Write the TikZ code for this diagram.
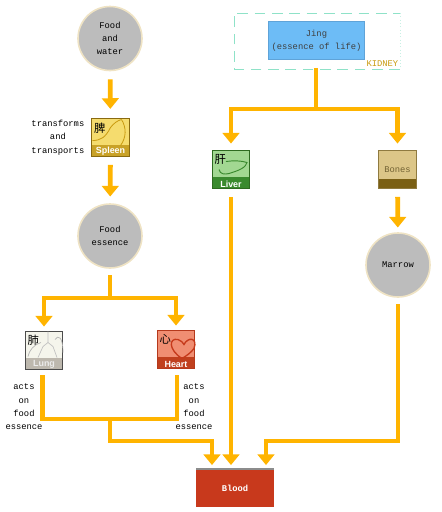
\documentclass[tikz,border=0pt]{standalone}
\usepackage{fontspec}
\setmainfont{Liberation Serif}
\newfontfamily\monofont{Liberation Mono}
\newfontfamily\bandfont{Liberation Sans}
\newfontfamily\cjk{Noto Sans CJK SC}
\usetikzlibrary{arrows.meta,positioning}
\definecolor{Flow}{HTML}{FFB400}
\definecolor{Disc}{HTML}{BCBCBC}
\definecolor{DiscEdge}{HTML}{EFE3C4}
\definecolor{Jing}{HTML}{6DBCF6}
\definecolor{JingEdge}{HTML}{5FA3D8}
\definecolor{Dash}{HTML}{8FE2C8}
\definecolor{Kidney}{HTML}{C99A10}
\definecolor{Blood}{HTML}{C8391C}
\definecolor{SpleenFill}{HTML}{F5DC6E}
\definecolor{SpleenBand}{HTML}{C9A227}
\definecolor{SpleenEdge}{HTML}{8A6A10}
\definecolor{LiverFill}{HTML}{A2D892}
\definecolor{LiverBand}{HTML}{3A8A2E}
\definecolor{LiverEdge}{HTML}{2E6B20}
\definecolor{LungBand}{HTML}{BDB8AE}
\definecolor{LungFill}{HTML}{F5F5EC}
\definecolor{HeartFill}{HTML}{F08E72}
\definecolor{HeartBand}{HTML}{C0401E}
\definecolor{HeartEdge}{HTML}{B5391C}
\definecolor{BonesFill}{HTML}{DCC688}
\definecolor{BonesBand}{HTML}{7A5F14}
\definecolor{BonesEdge}{HTML}{8F7A40}

\begin{document}
\begin{tikzpicture}[x=0.75pt,y=-0.75pt,node distance=3pt,>=Latex]
        \tikzset{
          plaintext/.style={
            font=\monofont\fontsize{6.6}{10}\selectfont,
            align=center,
            inner sep=0pt
          },
          disc/.style={
            circle,
            draw=DiscEdge,
            line width=1.2pt,
            fill=Disc,
            minimum size=48pt,
            inner sep=0pt,
            plaintext
          },
          icon/.style n args={3}{
            draw=#1,
            line width=0.9pt,
            fill=#2,
            minimum size=28pt,
            inner sep=0pt,
            path picture={
              \fill[#3] ([yshift=8.5pt]path picture bounding box.south west)
                rectangle (path picture bounding box.south east);
            }
          },
          bandtext/.style={
            font=\bandfont\bfseries\fontsize{6.7}{7}\selectfont,
            text=white,
            inner sep=0pt
          },
          glyph/.style={
            font=\cjk\fontsize{8.5}{9}\selectfont,
            inner sep=0pt
          },
          flow/.style={
            draw=Flow,
            line width=3.6pt,
            -{Triangle[width=12.5pt,length=8pt]},
            shorten <=6pt,
            shorten >=7pt
          },
          flowline/.style={
            draw=Flow,
            line width=3.6pt,
            line cap=butt
          }
        }
        \useasboundingbox (0,0) rectangle (442,512);
        % circles and boxes
        \node[disc] (water) at (110,38.5) {Food\\and\\water};
        \node[disc] (essence) at (110,236) {Food\\essence};
        \node[disc] (marrow) at (398,265) {Marrow};
        \node[rectangle,plaintext,draw=JingEdge,line width=0.7pt,fill=Jing,minimum width=72pt,minimum height=28.5pt,text=black!75] (jing) at (316.5,40.5) {Jing\\(essence of life)};
        \node[rectangle,plaintext,draw=Blood,fill=Blood,minimum width=58pt,minimum height=28pt,text=white,font=\monofont\bfseries\fontsize{6.6}{10}\selectfont] (blood) at (235,488) {Blood};
        \draw[black!45,line width=1pt] (blood.north west) -- (blood.north east);

        % kidney frame
        \coordinate (kna) at (234,13);
        \coordinate (knb) at (400,13);
        \coordinate (knc) at (400,69);
        \coordinate (knd) at (234,69);
        \draw[Dash,line width=0.7pt,dash pattern=on 8pt off 5pt] (knc) -- (knd) -- (kna) -- (knb);
        \draw[Dash!50,line width=0.5pt,dotted] (knb) -- (knc);
        \node[plaintext,text=Kidney,anchor=east] (kidney) at (398.5,64) {KIDNEY};

        % organs
        \node[icon={SpleenEdge}{SpleenFill}{SpleenBand}] (spleen) at (110.5,137.5) {};
        \node[icon={LiverEdge}{LiverFill}{LiverBand}] (liver) at (231,169.5) {};
        \node[icon={black!70}{LungFill}{LungBand}] (lung) at (44,350.5) {};
        \node[icon={HeartEdge}{HeartFill}{HeartBand}] (heart) at (176,349.5) {};
        \node[rectangle,draw=BonesEdge,line width=0.9pt,fill=BonesFill,minimum size=28pt,inner sep=0pt,plaintext,text=BonesEdge!80!black,
          path picture={\fill[BonesBand] ([yshift=7pt]path picture bounding box.south west) rectangle (path picture bounding box.south east);}] (bones) at (397.5,169.5) {Bones};

        \begin{scope}[shift={(spleen.center)}]
          \draw[Kidney,line width=0.6pt] (11,-18) .. controls (16,-10) and (16,0) .. (10,8);
          \draw[Kidney,line width=0.6pt] (-18,3) .. controls (-10,3) and (-5,0) .. (0,-10) .. controls (3,-14) and (7,-17) .. (11,-18);
        \end{scope}
        \begin{scope}[shift={(liver.center)}]
          \draw[LiverBand,line width=0.7pt] (-5,-8) .. controls (2,-9) and (10,-9) .. (16,-7) .. controls (15,-2) and (8,1) .. (-2,4) .. controls (-6,5) and (-11,5) .. (-12,0);
        \end{scope}
        \begin{scope}[shift={(lung.center)}]
          \draw[black!25,line width=0.5pt] (4,-19) -- (4,-8) -- (-1,-4) -- (-6,7) (4,-8) -- (9,-4) -- (13,7);
          \draw[black!30,line width=0.5pt] (11,-11) .. controls (14,-16) and (19,-14) .. (19,2);
          \draw[black!30,line width=0.5pt] (-3,-8) .. controls (-10,-6) and (-15,0) .. (-16,6);
        \end{scope}
        \begin{scope}[shift={(heart.center)}]
          \draw[HeartBand!90!red,line width=1pt] (6,9) .. controls (-8,0) and (-7,-12) .. (2,-10) .. controls (5,-9) and (7,-7) .. (8,-5) .. controls (12,-13) and (22,-12) .. (18,-1) .. controls (15,3) and (11,6) .. (6,9);
        \end{scope}

        \node[bandtext,above=1pt of spleen.south] (spleenband) {Spleen};
        \node[bandtext,above=1pt of liver.south] (liverband) {Liver};
        \node[bandtext,above=1pt of lung.south,text=white!92!black] (lungband) {Lung};
        \node[bandtext,above=1pt of heart.south] (heartband) {Heart};
        \node[glyph,below right=3pt and 2pt of spleen.north west] (spleenchar) {脾};
        \node[glyph,below right=3pt and 2pt of liver.north west] (liverchar) {肝};
        \node[glyph,below right=3pt and 2pt of lung.north west] (lungchar) {肺};
        \node[glyph,below right=3pt and 2pt of heart.north west] (heartchar) {心};

        % side labels
        \node[plaintext,left=5pt of spleen] (transforms) {transforms\\and\\transports};
        \node[plaintext] (actsleft) at (24,407) {acts\\on\\food\\essence};
        \node[plaintext] (actsright) at (194,407) {acts\\on\\food\\essence};

        % connectors
        \coordinate (jingfork) at (316,109);
        \coordinate (essencefork) at (110,298);
        \coordinate (lungfoot) at (42.5,419);
        \coordinate (heartfoot) at (177,419);
        \coordinate (lungmerge) at (110,419);
        \coordinate (bloodleft) at (212,441);
        \coordinate (bloodright) at (266,441);
        \coordinate (lungtop) at (42.5,375);
        \coordinate (hearttop) at (177,375);
        \draw[flow] (water) -- (spleen);
        \draw[flow,shorten >=5pt] (spleen) -- (essence);
        \draw[flow,shorten >=3.5pt] (bones) -- (marrow);
        \draw[flow,shorten >=3pt] (liver) -- (liver |- blood.north);
        \draw[flowline,shorten <=6pt] (jing.south -| jingfork) -- (jingfork);
        \draw[flow,shorten <=0pt,shorten >=5pt] (jingfork) -| (liver);
        \draw[flow,shorten <=0pt,shorten >=5pt] (jingfork) -| (bones);
        \draw[flowline,shorten <=5pt] (essence) -- (essencefork);
        \draw[flow,shorten <=0pt,shorten >=3.5pt] (essencefork) -| (lung);
        \draw[flow,shorten <=0pt,shorten >=3.5pt] (essencefork) -| (heart);
        \draw[flowline,line join=miter] (lungtop) -- (lungfoot) -- (heartfoot) -- (hearttop);
        \draw[flow,shorten <=0pt,shorten >=3pt] (lungmerge) |- (bloodleft) -- (bloodleft |- blood.north);
        \draw[flow,shorten <=5pt,shorten >=3pt] (marrow.south) |- (bloodright) -- (bloodright |- blood.north);
      \end{tikzpicture}
\end{document}
